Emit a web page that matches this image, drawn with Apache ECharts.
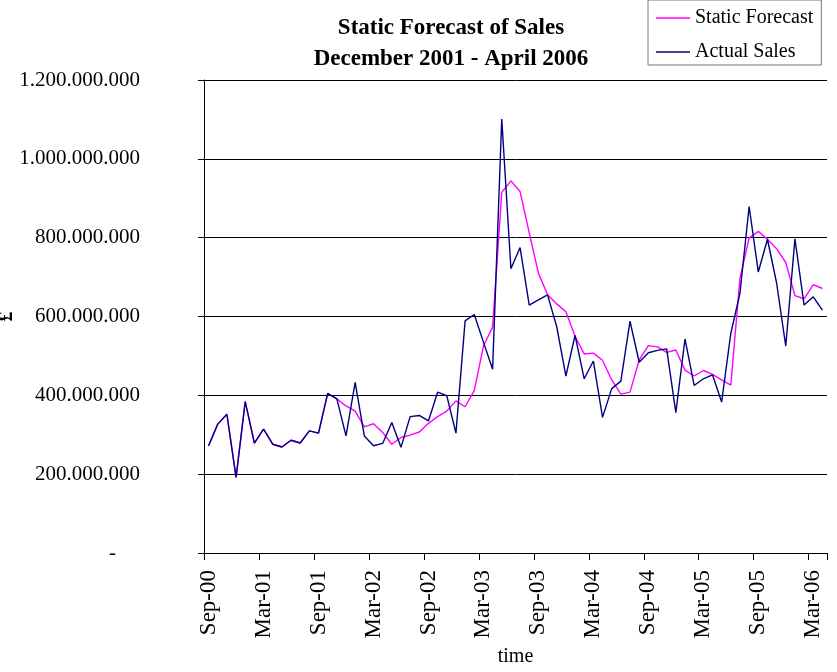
<!DOCTYPE html>
<html>
<head>
<meta charset="utf-8">
<script src="https://cdn.jsdelivr.net/npm/echarts@6/dist/echarts.min.js"></script>
<style>html,body{margin:0;padding:0;background:#fff}#c{width:837px;height:672px}</style>
</head>
<body>
<div id="c"></div>
<script>
// Monthly categories Sep-00 .. Apr-06
var months = ['Jan','Feb','Mar','Apr','May','Jun','Jul','Aug','Sep','Oct','Nov','Dec'];
var categories = [];
(function(){ var m = 8, y = 0; for (var i = 0; i < 68; i++) { categories.push(months[m] + '-' + (y < 10 ? '0' + y : '' + y)); m++; if (m === 12) { m = 0; y++; } } })();

// Values in millions of £
var actualSales = [272,327,352,192,384,279,314,276,269,286,279,310,304,405,391,297,433,297,272,278,
  331,268,346,349,335,408,399,304,589,605,535,466,1101,721,775,629,642,655,574,449,
  552,442,487,344,417,436,588,484,508,514,518,356,543,425,442,452,383,557,659,879,
  713,796,685,525,797,629,650,616];
var staticForecast = [272,327,352,192,384,279,314,276,269,286,279,310,304,405,391,373,360,320,328,306,
  276,293,299,307,329,346,360,386,371,412,525,573,915,944,917,812,710,655,632,612,
  550,505,507,489,439,403,408,490,526,523,509,515,464,449,463,453,439,426,697,799,
  816,796,772,737,653,645,681,671];

var titleLines = ['Static Forecast of Sales', 'December 2001 - April 2006'];
var seriesNames = ['Static Forecast', 'Actual Sales'];

function scale(a){ return a.map(function(v){ return v == null ? null : v * 1e6; }); }
function fmt(v){
  if (v === 0) return '{z|-}';
  return String(Math.round(v)).replace(/\B(?=(\d{3})+(?!\d))/g, '.');
}

var FONT = '"Liberation Serif", "Times New Roman", serif';
var chart = echarts.init(document.getElementById('c'), null, {renderer: 'canvas'});
chart.setOption({
  backgroundColor: '#fff',
  animation: false,
  textStyle: {fontFamily: FONT, color: '#000'},
  title: {
    text: titleLines.join('\n'),
    left: 451, top: 13, textAlign: 'center', padding: 0,
    textStyle: {fontFamily: FONT, fontSize: 23, fontWeight: 'bold', lineHeight: 31, color: '#000'}
  },
  legend: {
    orient: 'vertical', left: 648, top: 0,
    padding: [8, 8, 3, 8], itemGap: 14,
    icon: 'rect', itemWidth: 34, itemHeight: 1.5,
    borderColor: '#777', borderWidth: 1, backgroundColor: '#fff',
    textStyle: {fontFamily: FONT, fontSize: 20, color: '#000', lineHeight: 20},
    data: seriesNames
  },
  grid: {left: 204, top: 80, right: 10, bottom: 119, containLabel: false, outerBoundsMode: 'none'},
  xAxis: {
    type: 'category', data: categories, boundaryGap: true,
    name: 'time', nameLocation: 'middle', nameGap: 94, nameMoveOverlap: false,
    nameTextStyle: {fontFamily: FONT, fontSize: 20, color: '#000'},
    axisLine: {lineStyle: {color: '#000', width: 1}},
    axisTick: {show: true, interval: 5, length: 7, alignWithLabel: false, lineStyle: {color: '#000'}},
    axisLabel: {interval: 5, rotate: 90, margin: 17, fontFamily: FONT, fontSize: 23, color: '#000'},
    splitLine: {show: false}
  },
  yAxis: {
    type: 'value', min: 0, max: 1.2e9, interval: 2e8,
    name: '£', nameLocation: 'middle', nameGap: 187, nameRotate: 90, nameMoveOverlap: false,
    nameTextStyle: {fontFamily: FONT, fontSize: 20, fontWeight: 'bold', color: '#000'},
    axisLine: {show: true, lineStyle: {color: '#000', width: 1}},
    axisTick: {show: true, length: 6, lineStyle: {color: '#000'}},
    axisLabel: {margin: 64, fontFamily: FONT, fontSize: 21, color: '#000', formatter: fmt,
      rich: {z: {fontFamily: FONT, fontSize: 21, color: '#000', padding: [0, 24, 0, 0]}}},
    splitLine: {show: true, lineStyle: {color: '#000', width: 1}}
  },
  series: [
    {name: seriesNames[0], type: 'line', data: scale(staticForecast), symbol: 'none', z: 2,
     lineStyle: {color: '#ff00ff', width: 1.4}, itemStyle: {color: '#ff00ff'}},
    {name: seriesNames[1], type: 'line', data: scale(actualSales), symbol: 'none', z: 3,
     lineStyle: {color: '#000080', width: 1.4}, itemStyle: {color: '#000080'}}
  ]
});
</script>
</body>
</html>
